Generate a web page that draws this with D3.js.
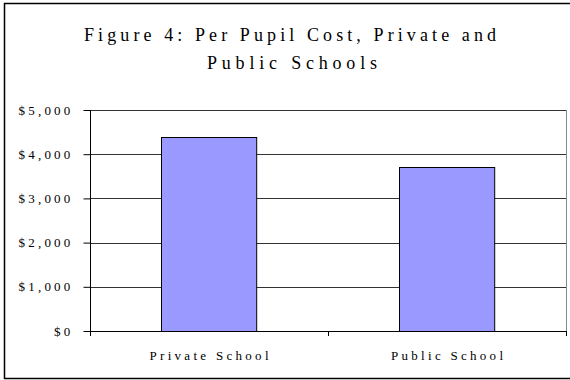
<!DOCTYPE html>
<html>
<head>
<meta charset="utf-8">
<script src="https://cdn.jsdelivr.net/npm/d3@7"></script>
<style>
  body { margin: 0; background: #fff; }
  text { font-family: "Liberation Serif", "DejaVu Serif", serif; fill: #000; }
</style>
</head>
<body>
<div id="vis"></div>
<script>
// Datos
const categories = ["Private School", "Public School"];
const costs = [4400, 3700];
const yTicks = [0, 1000, 2000, 3000, 4000, 5000];
const titleLines = ["Figure 4: Per Pupil Cost, Private and", "Public Schools"];

const WIDTH = 570;
const HEIGHT = 380;
const plot = { left: 90, right: 566, top: 110, bottom: 331 };

const svg = d3.select("#vis")
    .append("svg")
    .attr("width", WIDTH)
    .attr("height", HEIGHT);

// marco exterior
svg.append("rect")
    .attr("x", 4.5).attr("y", 3.5)
    .attr("width", 570).attr("height", 375)
    .attr("fill", "#fff")
    .attr("stroke", "#000")
    .attr("stroke-width", 1.5);

// Escalas
const x = d3.scaleBand()
    .domain(categories)
    .range([plot.left, plot.right])
    .paddingInner(0.6)
    .paddingOuter(0.3);

const y = d3.scaleLinear()
    .domain([0, 5000])
    .range([plot.bottom, plot.top]);

// grid
svg.append("g")
    .selectAll("line")
    .data(yTicks.filter(d => d > 0))
    .join("line")
    .attr("x1", plot.left)
    .attr("x2", plot.right)
    .attr("y1", d => Math.round(y(d)) + 0.5)
    .attr("y2", d => Math.round(y(d)) + 0.5)
    .attr("stroke", "#333");

// borde derecho del área
svg.append("line")
    .attr("x1", plot.right + 0.5).attr("x2", plot.right + 0.5)
    .attr("y1", plot.top).attr("y2", plot.bottom)
    .attr("stroke", "#888");

// barras
svg.append("g")
    .selectAll("rect")
    .data(costs)
    .join("rect")
    .attr("x", (d, i) => Math.round(x(categories[i])) + 0.5)
    .attr("y", d => Math.round(y(d)) + 0.5)
    .attr("width", x.bandwidth())
    .attr("height", d => Math.round(y(0)) - Math.round(y(d)))
    .attr("fill", "#9999ff")
    .attr("stroke", "#000");

// eje y
const yAxis = svg.append("g")
    .attr("transform", `translate(${plot.left + 0.5},0)`)
    .call(d3.axisLeft(y)
        .tickValues(yTicks)
        .tickSize(7)
        .tickPadding(10)
        .tickFormat(d => "$" + d3.format(",")(d)));
yAxis.select(".domain").attr("stroke", "#000").attr("d", `M0,${plot.top}V${plot.bottom + 0.5}`);
yAxis.selectAll("text")
    .attr("font-size", 13)
    .attr("font-family", "Liberation Serif")
    .attr("letter-spacing", 3.2);

// eje x
const xAxis = svg.append("g")
    .attr("transform", `translate(0,${plot.bottom + 0.5})`)
    .call(d3.axisBottom(x).tickSize(0).tickPadding(19));
xAxis.select(".domain").attr("stroke", "#000").attr("d", `M${plot.left},0H${plot.right + 1}`);
xAxis.selectAll("text")
    .attr("font-size", 13)
    .attr("font-family", "Liberation Serif")
    .attr("textLength", d => d === categories[0] ? 119 : 112)
    .attr("lengthAdjust", "spacing");

// marcas entre categorías
const sepTicks = [plot.left, x(categories[1]) - x.step() * x.paddingInner() / 2, plot.right];
svg.append("g")
    .selectAll("line")
    .data(sepTicks)
    .join("line")
    .attr("x1", d => Math.round(d) + 0.5)
    .attr("x2", d => Math.round(d) + 0.5)
    .attr("y1", plot.bottom)
    .attr("y2", plot.bottom + 5)
    .attr("stroke", "#000");

// título
svg.append("g")
    .selectAll("text")
    .data(titleLines)
    .join("text")
    .attr("x", (d, i) => i === 0 ? 290 : 292)
    .attr("y", (d, i) => 41 + i * 28)
    .attr("text-anchor", "middle")
    .attr("font-size", 18)
    .attr("textLength", (d, i) => i === 0 ? 412 : 170)
    .attr("lengthAdjust", "spacing")
    .text(d => d);
</script>
</body>
</html>
